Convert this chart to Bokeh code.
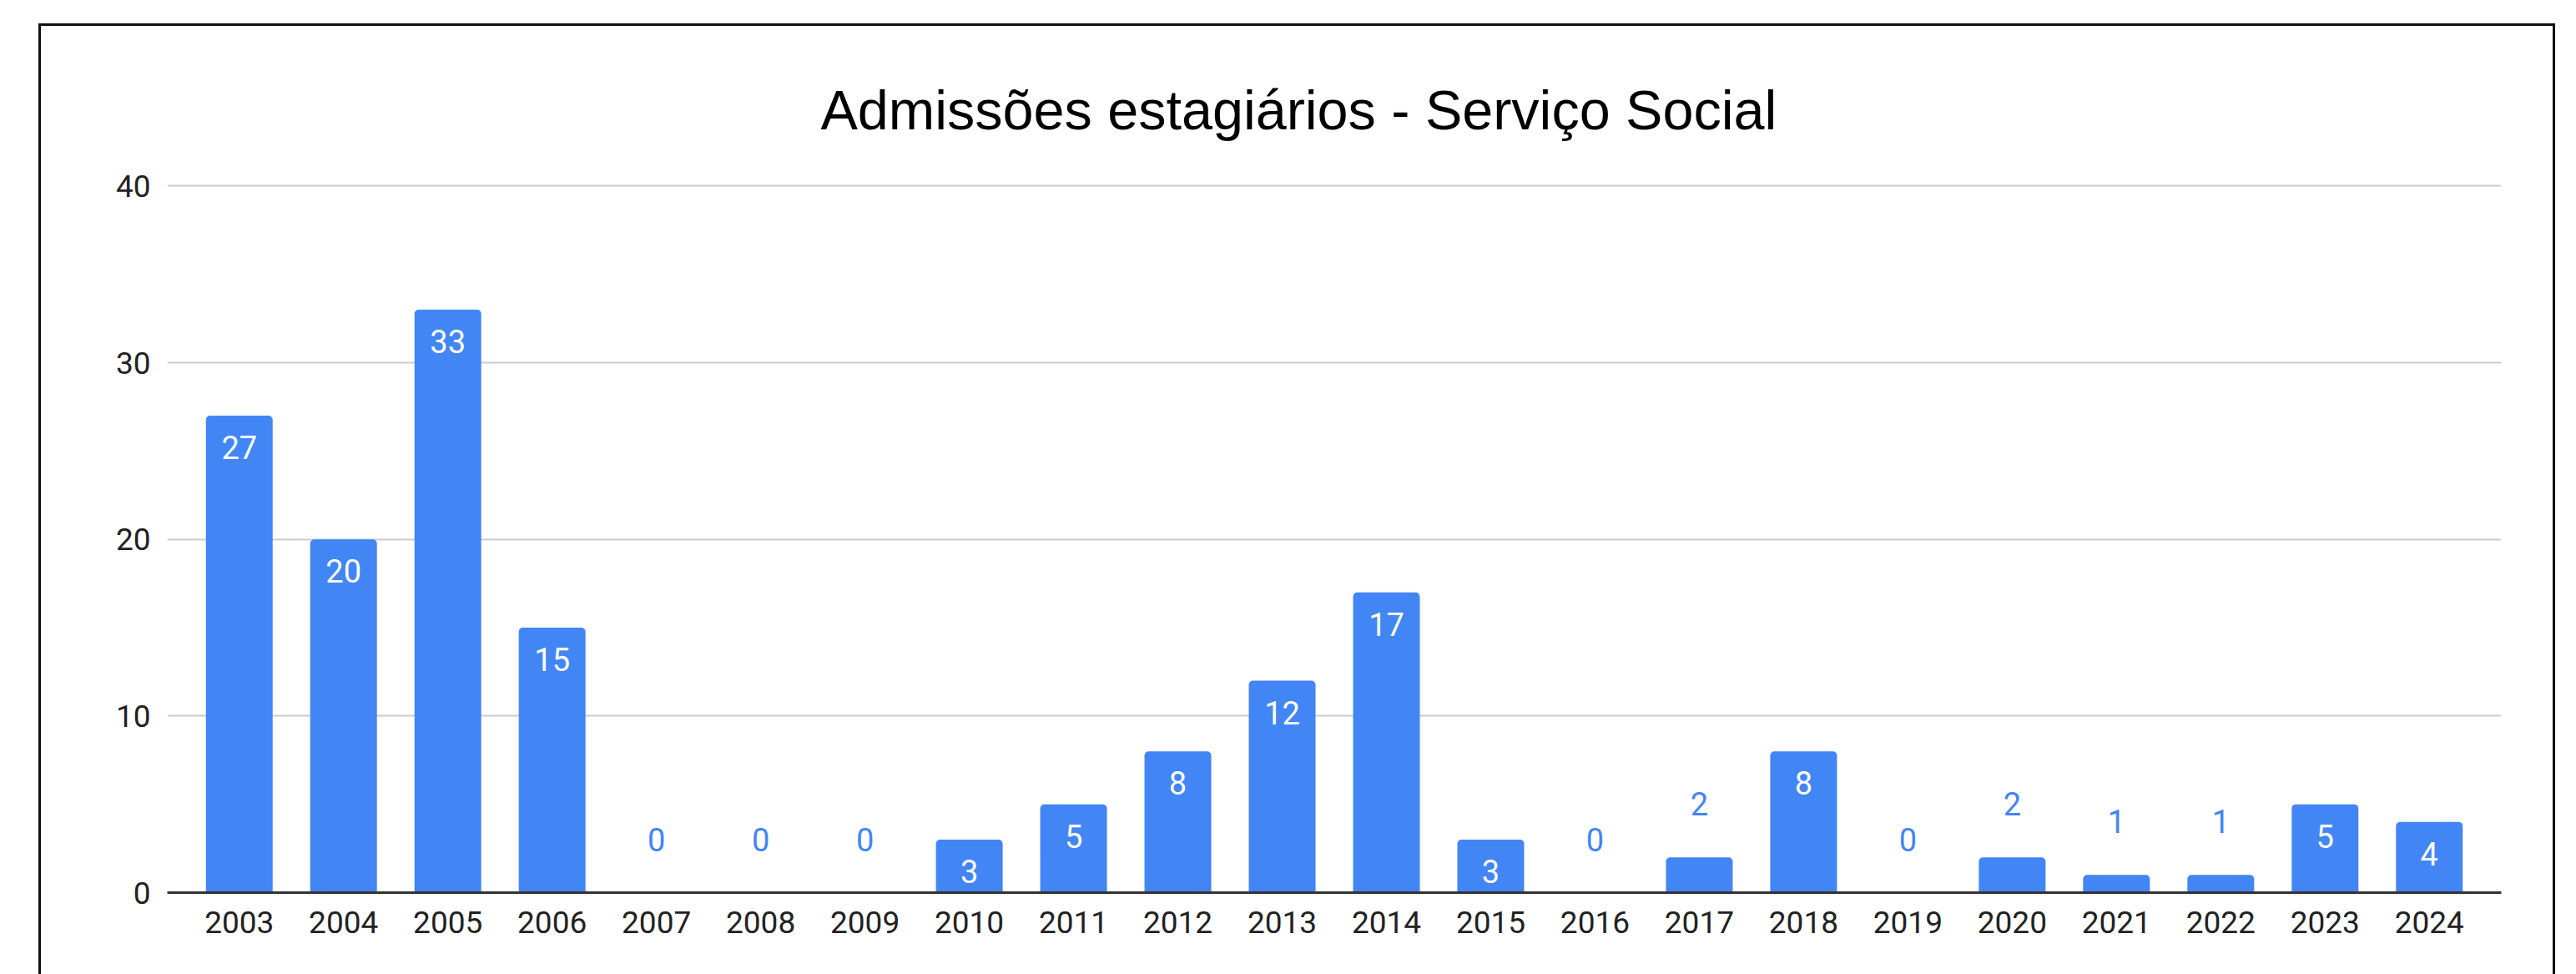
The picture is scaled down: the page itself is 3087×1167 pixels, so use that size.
from bokeh.plotting import figure
from bokeh.models import ColumnDataSource, Range1d, FixedTicker, LabelSet, Title
from bokeh.core.properties import value
from bokeh.embed import file_html
from bokeh.resources import INLINE

# ---- data ----
year_labels = ["2003", "2004", "2005", "2006", "2007", "2008", "2009", "2010",
               "2011", "2012", "2013", "2014", "2015", "2016", "2017", "2018",
               "2019", "2020", "2021", "2022", "2023", "2024"]
admissoes = [27, 20, 33, 15, 0, 0, 0, 3, 5, 8, 12, 17, 3, 0, 2, 8, 0, 2, 1, 1, 5, 4]
y_ticks = [0, 10, 20, 30, 40]
title_text = "Admissões estagiários - Serviço Social"

years = [int(s) for s in year_labels]
BLUE = "#4285F4"

# ---- layout constants (pixels) ----
W, H = 3087, 1167
FL, FR = 200, 2997          # frame left / right
FT, FB = 216, 1069          # frame top / bottom

x0, x1 = years[0] - 0.5 - 0.19, years[-1] + 0.5 + 0.19
y0, y1 = 0, 40.3

p = figure(width=W, height=H, output_backend="svg", toolbar_location=None,
           x_range=Range1d(x0, x1), y_range=Range1d(y0, y1),
           min_border_left=FL, min_border_right=W - FR,
           min_border_top=FT, min_border_bottom=H - FB)
p.outline_line_color = None
p.background_fill_color = "white"
p.border_fill_color = None

# outer chart border (open at the bottom, as in the cropped original)
line = "linear-gradient(#111111, #111111)"
p.styles = {
    "background-color": "white",
    "background-image": f"{line}, {line}, {line}",
    "background-repeat": "no-repeat",
    "background-position": "46px 28px, 46px 28px, 3059px 28px",
    "background-size": "3px 1300px, 3016px 3px, 3px 1300px",
}

t = Title(text=title_text, align="left", offset=783, standoff=96,
          text_font="Liberation Sans", text_font_size="66.5px",
          text_font_style="normal", text_color="#000000")
p.title = t

src = ColumnDataSource(dict(x=years, top=admissoes))
p.vbar(x="x", top="top", bottom=0, width=0.64, source=src,
       fill_color=BLUE, line_color=None, border_radius=(5, 5, 0, 0))

# data labels: inside (white) for taller bars, above (blue) for short ones
ins = [i for i, v in enumerate(admissoes) if v >= 3]
out = [i for i, v in enumerate(admissoes) if v < 3]
src_in = ColumnDataSource(dict(x=[years[i] for i in ins], y=[admissoes[i] for i in ins],
                               lab=[str(admissoes[i]) for i in ins]))
src_out = ColumnDataSource(dict(x=[years[i] for i in out], y=[admissoes[i] for i in out],
                                lab=[str(admissoes[i]) for i in out]))
p.add_layout(LabelSet(x="x", y="y", text="lab", source=src_in, y_offset=-38,
                      text_align="center", text_baseline="middle",
                      text_color="white", text_font=value("Roboto"),
                      text_font_size="38px"))
p.add_layout(LabelSet(x="x", y="y", text="lab", source=src_out, y_offset=64,
                      text_align="center", text_baseline="middle",
                      text_color=BLUE, text_font=value("Roboto"),
                      text_font_size="38px"))

# axes
p.xaxis.ticker = FixedTicker(ticks=years)
p.xaxis.major_label_overrides = {y: s for y, s in zip(years, year_labels)}
p.xaxis.major_tick_line_color = None
p.xaxis.minor_tick_line_color = None
p.xaxis.major_tick_out = 0
p.xaxis.major_tick_in = 0
p.xaxis.axis_line_color = "#333333"
p.xaxis.axis_line_width = 3
p.xaxis.major_label_standoff = 22
p.xaxis.major_label_text_font = "Roboto"
p.xaxis.major_label_text_font_size = "37px"
p.xaxis.major_label_text_color = "#222222"

p.yaxis.ticker = FixedTicker(ticks=y_ticks)
p.yaxis.axis_line_color = None
p.yaxis.major_tick_line_color = None
p.yaxis.minor_tick_line_color = None
p.yaxis.major_tick_out = 0
p.yaxis.major_tick_in = 0
p.yaxis.major_label_standoff = 20
p.yaxis.major_label_text_font = "Roboto"
p.yaxis.major_label_text_font_size = "37px"
p.yaxis.major_label_text_color = "#222222"

p.xgrid.visible = False
p.ygrid.ticker = FixedTicker(ticks=y_ticks)
p.ygrid.grid_line_color = "#cccccc"
p.ygrid.grid_line_width = 2

open("out.html", "w").write(file_html(p, INLINE))
